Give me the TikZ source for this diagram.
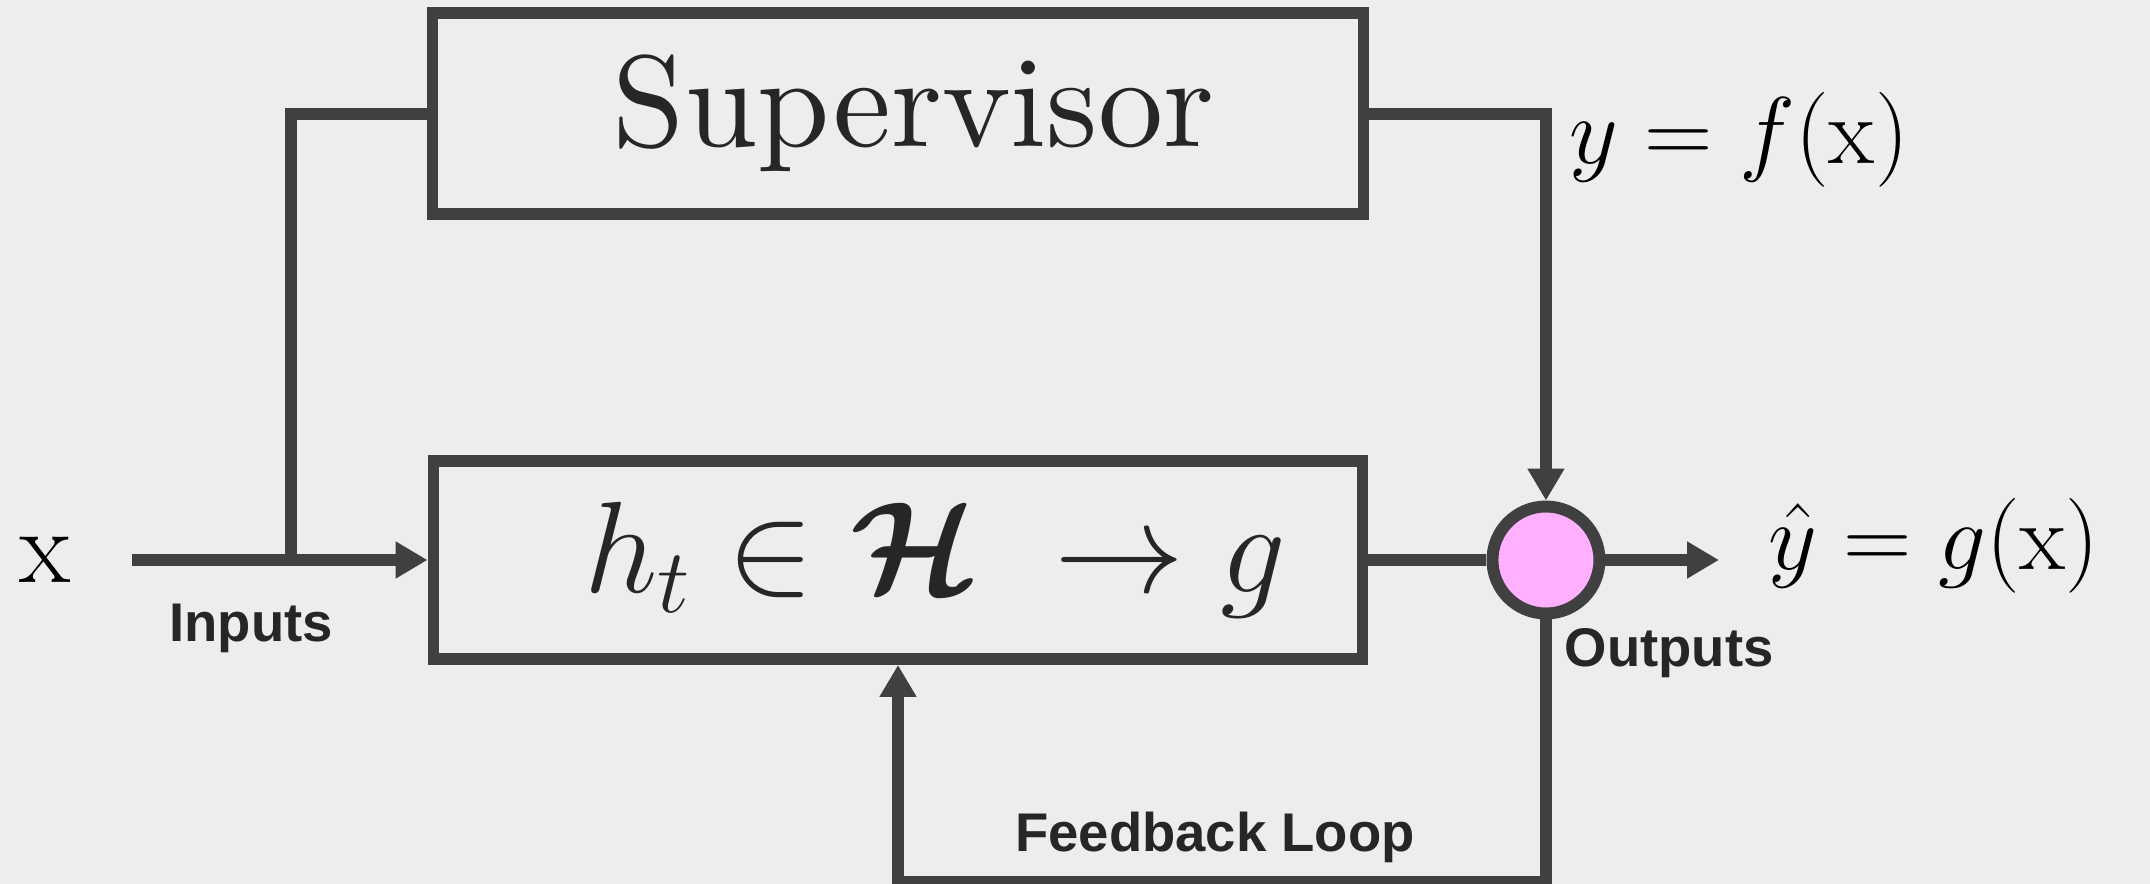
\RequirePackage{fix-cm}
\documentclass[tikz,border=0pt]{standalone}
\usepackage{fontspec}
\usepackage{amsmath}
\usepackage{amssymb}
\usepackage{bm}
\usetikzlibrary{positioning, arrows.meta}
\newfontfamily\labelfont{Liberation Sans}
\newfontfamily\supfont{lmroman10-regular}[Extension=.otf]
\definecolor{bgcol}{HTML}{EDEDED}
\definecolor{linecol}{HTML}{404040}
\definecolor{inkcol}{HTML}{262626}
\definecolor{sumcol}{HTML}{FFB0FF}
\tikzset{>={Triangle[length=3.2mm, width=3.5mm]},
block/.style={draw=linecol, line width=3.4pt, inner sep=0pt, text=inkcol},
conn/.style={draw=linecol, line width=3.4pt},
sumnode/.style={circle, draw=linecol, fill=sumcol, line width=3.4pt, minimum size=1.07cm, inner sep=0pt},
tag/.style={font=\labelfont\bfseries\fontsize{15.5}{18}\selectfont, text=inkcol, inner sep=0pt},
eq/.style={font=\fontsize{27}{31}\selectfont, inner sep=0pt},
}

\begin{document}
\begin{tikzpicture}
            \fill[bgcol] (0,0) rectangle (21.5,-8.84);
            \useasboundingbox (0,0) rectangle (21.5,-8.84);

            \node[block, minimum width=9.29cm, minimum height=1.98cm, font=\fontsize{37}{40}\selectfont] (hyp) at (8.98,-5.60) {\hspace*{0.75cm}$h_t \in \bm{\mathcal{H}}\ \to g$};
            \node[block, above=2.35cm of hyp, minimum width=9.31cm, minimum height=2.01cm, font=\supfont\fontsize{37}{40}\selectfont] (sup) {\hspace*{0.31cm}Supervisor};
            \node[sumnode, right=1.18cm of hyp] (sum) {};

            \node[eq, font=\fontsize{30}{34}\selectfont, anchor=base west] (xin) at (0.19,-5.82) {$\mathrm{x}$};
            \node[eq, anchor=base west] (ytrue) at (15.69,-1.64) {$y = f(\mathrm{x})$};
            \node[eq, anchor=base west] (yhat) at (17.68,-5.70) {$\hat{y} = g(\mathrm{x})$};
            \node[tag, anchor=base] (inl) at (2.51,-6.42) {Inputs};
            \node[tag, anchor=base west] (outl) at (15.64,-6.67) {Outputs};
            \node[tag, anchor=base] (fbl) at (12.15,-8.51) {Feedback Loop};

            \coordinate (xstart) at (1.32,-5.60);
            \coordinate (split) at (2.91,-5.60);
            \coordinate (yend) at (17.19,-5.60);
            \coordinate (loop) at (8.98,-8.82);

            \draw[conn, ->] (xstart) -- (hyp);
            \draw[conn] (sup.west) -| (split);
            \draw[conn, ->] (sup.east) -| (sum.north);
            \draw[conn] (hyp) -- (sum);
            \draw[conn, ->] (sum) -- (yend);
            \draw[conn, ->] (sum.south) |- (loop) -- (hyp.south);
        \end{tikzpicture}
\end{document}
